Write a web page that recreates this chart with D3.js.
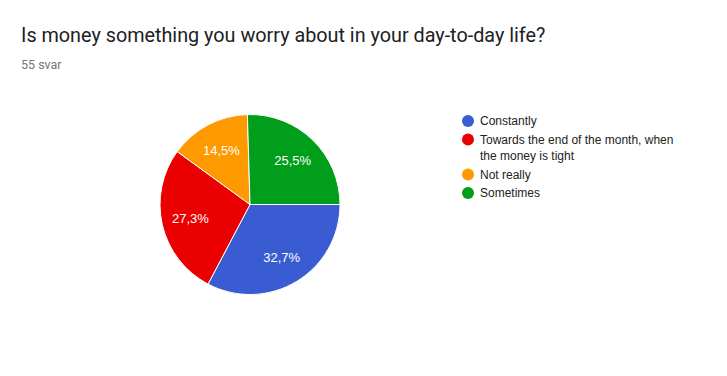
<!DOCTYPE html>
<html><head><meta charset="utf-8">
<script src="https://cdn.jsdelivr.net/npm/d3@7"></script>
<style>
html,body{margin:0;padding:0;background:#fff;}
svg{display:block;font-family:Roboto,Arial,sans-serif;}
</style></head>
<body>
<svg id="c" width="727" height="376"></svg>
<script>
const title = "Is money something you worry about in your day-to-day life?";
const subtitle = "55 svar";
const categories = ["Constantly", "Towards the end of the month, when the money is tight", "Not really", "Sometimes"];
const legendLines = [["Constantly"], ["Towards the end of the month, when", "the money is tight"], ["Not really"], ["Sometimes"]];
const counts = [18, 15, 8, 14];
const labels = ["32,7%", "27,3%", "14,5%", "25,5%"];
const colors = ["#3a5cd2", "#ea0000", "#ff9900", "#009e1b"];

const svg = d3.select("#c");
svg.append("text").attr("x", 21).attr("y", 42).attr("font-size", 19.8).attr("fill", "#202124").text(title);
svg.append("text").attr("x", 21).attr("y", 69).attr("font-size", 12.5).attr("fill", "#757575").text(subtitle);

const cx = 250, cy = 204.5, r = 90;
const pie = d3.pie().sort(null).startAngle(Math.PI/2).endAngle(Math.PI/2 + 2*Math.PI);
const arcs = pie(counts);
const arc = d3.arc().innerRadius(0).outerRadius(r);
const g = svg.append("g").attr("transform", `translate(${cx},${cy})`);
g.selectAll("path").data(arcs).join("path")
  .attr("d", arc).attr("fill", (d,i)=>colors[i]).attr("stroke", "#fff").attr("stroke-width", 1);
const labelArc = d3.arc().innerRadius(r*0.68).outerRadius(r*0.68);
g.selectAll("text").data(arcs).join("text")
  .attr("transform", d => `translate(${labelArc.centroid(d)})`)
  .attr("text-anchor", "middle").attr("dy", "0.36em")
  .attr("font-family", "'Liberation Sans',Arial,sans-serif")
  .attr("font-size", 13).attr("fill", "#fff").text((d,i)=>labels[i]);

const lg = svg.append("g").attr("font-family", "'Liberation Sans',Arial,sans-serif");
let y = 121;
legendLines.forEach((lines, i) => {
  lg.append("circle").attr("cx", 468).attr("cy", y).attr("r", 6).attr("fill", colors[i]);
  lines.forEach((t, j) => {
    lg.append("text").attr("x", 480).attr("y", y + j*16.5).attr("dy", "0.35em")
      .attr("font-size", 12).attr("fill", "#222").text(t);
  });
  y += (lines.length - 1) * 16.5 + 18.5;
});
</script>
</body></html>
